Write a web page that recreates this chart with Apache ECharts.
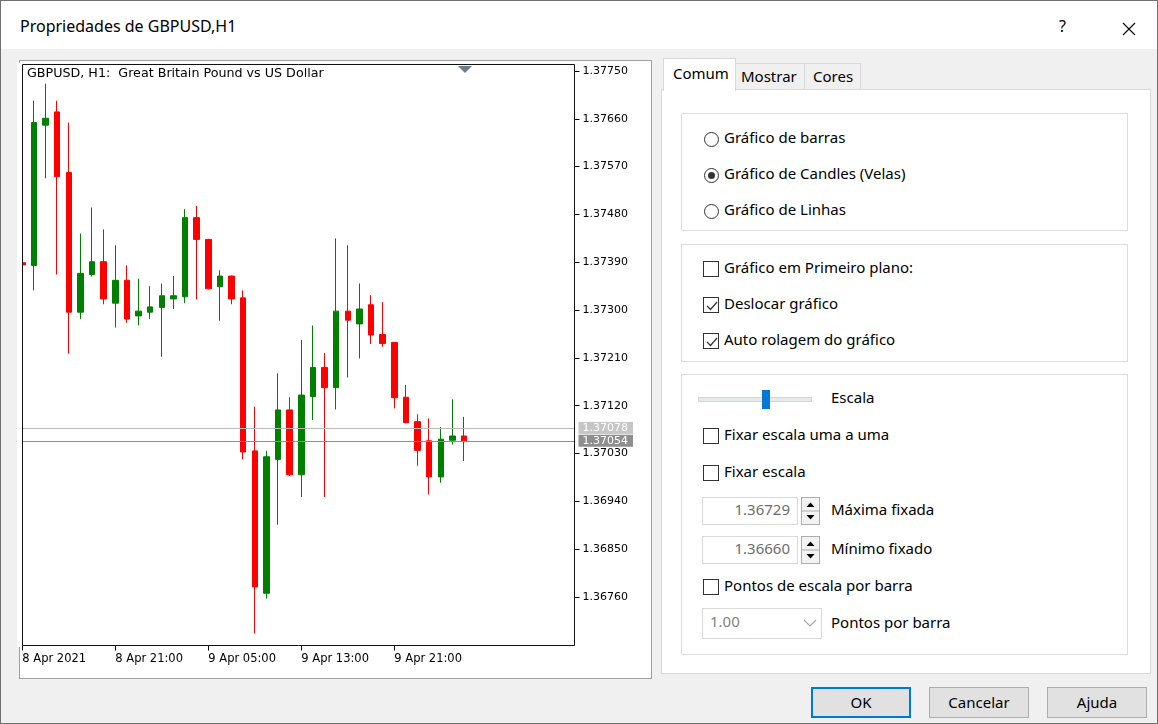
<!DOCTYPE html>
<html>
<head>
<meta charset="utf-8">
<script src="https://cdn.jsdelivr.net/npm/echarts@6/dist/echarts.min.js"></script>
<style>
  body { margin: 0; }
  #win { position: absolute; left: 0; top: 0; width: 1158px; height: 724px; box-sizing: border-box;
         border: 1px solid #707070; background: #f0f0f0; overflow: hidden;
         font-family: "Noto Sans", sans-serif; }
  #titlebar { position: absolute; left: 0; top: 0; width: 1156px; height: 48px; background: #fff; }
  .abs { position: absolute; box-sizing: border-box; }
  .t { position: absolute; font-size: 15px; line-height: 20px; height: 20px; margin-top: -2px; color: #000; white-space: nowrap; }
  .grp { position: absolute; box-sizing: border-box; border: 1px solid #dcdcdc; background: #fff; }
  .radio { position: absolute; width: 15px; height: 15px; box-sizing: border-box; border: 1px solid #333; border-radius: 50%; background: #fff; }
  .radio.on::after { content: ""; position: absolute; left: 3px; top: 3px; width: 7px; height: 7px; border-radius: 50%; background: #333; }
  .chk { position: absolute; width: 16px; height: 16px; box-sizing: border-box; border: 1px solid #333; background: #fff; }
  .chk svg { position: absolute; left: 0; top: 0; }
  .btn { position: absolute; box-sizing: border-box; height: 31px; width: 100px; background: #e1e1e1;
         border: 1px solid #adadad; font-size: 15px; line-height: 29px; text-align: center; }
  #chart { position: absolute; left: 0; top: 0; width: 660px; height: 690px; }
</style>
</head>
<body>
<div id="win">
  <div id="titlebar"></div>
  <div class="t" style="left:19px;top:17px;font-size:16px;">Propriedades de GBPUSD,H1</div>
  <div class="t" style="left:1058px;top:17px;font-size:16px;">?</div>
  <svg class="abs" style="left:1121px;top:21px;" width="14" height="14"><path d="M1 1 L13 13 M13 1 L1 13" stroke="#000" stroke-width="1.1"/></svg>

  <!-- fundo do painel do grafico -->
  <div class="abs" style="left:18px;top:59px;width:633px;height:619px;background:#fff;border:1px solid #a0a0a0;"></div>

  <!-- abas -->
  <div class="abs" style="left:660px;top:88px;width:490px;height:585px;background:#fff;border:1px solid #d9d9d9;"></div>
  <div class="abs" style="left:734px;top:62px;width:70px;height:27px;background:#f0f0f0;border:1px solid #d9d9d9;"></div>
  <div class="abs" style="left:803px;top:62px;width:57px;height:27px;background:#f0f0f0;border:1px solid #d9d9d9;"></div>
  <div class="abs" style="left:662px;top:57px;width:73px;height:33px;background:#fff;border:1px solid #d9d9d9;border-bottom:none;"></div>
  <div class="t" style="left:672px;top:64px;">Comum</div>
  <div class="t" style="left:740px;top:67px;">Mostrar</div>
  <div class="t" style="left:812px;top:67px;">Cores</div>

  <!-- grupo 1 -->
  <div class="grp" style="left:680px;top:112px;width:447px;height:118px;"></div>
  <div class="radio" style="left:703px;top:131px;"></div>
  <div class="t" style="left:723px;top:128px;">Gráfico de barras</div>
  <div class="radio on" style="left:703px;top:167px;"></div>
  <div class="t" style="left:723px;top:164px;">Gráfico de Candles (Velas)</div>
  <div class="radio" style="left:703px;top:203px;"></div>
  <div class="t" style="left:723px;top:200px;">Gráfico de Linhas</div>

  <!-- grupo 2 -->
  <div class="grp" style="left:680px;top:243px;width:447px;height:118px;"></div>
  <div class="chk" style="left:702px;top:260px;"></div>
  <div class="t" style="left:723px;top:258px;">Gráfico em Primeiro plano:</div>
  <div class="chk" style="left:702px;top:296px;"><svg width="16" height="16"><polyline points="3,8 6.5,11.5 13,4" fill="none" stroke="#333" stroke-width="1.2"/></svg></div>
  <div class="t" style="left:723px;top:294px;">Deslocar gráfico</div>
  <div class="chk" style="left:702px;top:332px;"><svg width="16" height="16"><polyline points="3,8 6.5,11.5 13,4" fill="none" stroke="#333" stroke-width="1.2"/></svg></div>
  <div class="t" style="left:723px;top:330px;">Auto rolagem do gráfico</div>

  <!-- grupo 3 -->
  <div class="grp" style="left:680px;top:373px;width:447px;height:281px;"></div>
  <div class="abs" style="left:697px;top:396px;width:114px;height:5px;background:#e7eaea;border:1px solid #d6d6d6;"></div>
  <div class="abs" style="left:761px;top:389px;width:8px;height:19px;background:#0078d7;"></div>
  <div class="t" style="left:830px;top:388px;">Escala</div>
  <div class="chk" style="left:702px;top:427px;"></div>
  <div class="t" style="left:723px;top:425px;">Fixar escala uma a uma</div>
  <div class="chk" style="left:702px;top:464px;"></div>
  <div class="t" style="left:723px;top:462px;">Fixar escala</div>

  <div class="abs" style="left:701px;top:496px;width:96px;height:28px;background:#fff;border:1px solid #d9d9d9;"></div>
  <div class="t" style="left:701px;top:500px;width:88px;text-align:right;color:#6d6d6d;">1.36729</div>
  <div class="abs" style="left:800px;top:496px;width:19px;height:28px;background:#f3f3f3;border:1px solid #adadad;"></div>
  <svg class="abs" style="left:800px;top:496px;" width="19" height="28"><line x1="1" y1="14" x2="18" y2="14" stroke="#adadad"/><path d="M5.5 10 L9.5 5.5 L13.5 10 Z" fill="#000"/><path d="M5.5 18 L9.5 22.5 L13.5 18 Z" fill="#000"/></svg>
  <div class="t" style="left:830px;top:500px;">Máxima fixada</div>

  <div class="abs" style="left:701px;top:535px;width:96px;height:28px;background:#fff;border:1px solid #d9d9d9;"></div>
  <div class="t" style="left:701px;top:539px;width:88px;text-align:right;color:#6d6d6d;">1.36660</div>
  <div class="abs" style="left:800px;top:535px;width:19px;height:28px;background:#f3f3f3;border:1px solid #adadad;"></div>
  <svg class="abs" style="left:800px;top:535px;" width="19" height="28"><line x1="1" y1="14" x2="18" y2="14" stroke="#adadad"/><path d="M5.5 10 L9.5 5.5 L13.5 10 Z" fill="#000"/><path d="M5.5 18 L9.5 22.5 L13.5 18 Z" fill="#000"/></svg>
  <div class="t" style="left:830px;top:539px;">Mínimo fixado</div>

  <div class="chk" style="left:702px;top:578px;"></div>
  <div class="t" style="left:723px;top:576px;">Pontos de escala por barra</div>
  <div class="abs" style="left:701px;top:607px;width:120px;height:31px;background:#fff;border:1px solid #d9d9d9;"></div>
  <div class="t" style="left:709px;top:612px;color:#838383;">1.00</div>
  <svg class="abs" style="left:802px;top:617px;" width="14" height="10"><polyline points="1,2 7,8 13,2" fill="none" stroke="#a6a6a6" stroke-width="1.1"/></svg>
  <div class="t" style="left:830px;top:613px;">Pontos por barra</div>

  <!-- botoes -->
  <div class="btn" style="left:810px;top:686px;border:2px solid #0078d7;line-height:27px;">OK</div>
  <div class="btn" style="left:928px;top:686px;">Cancelar</div>
  <div class="btn" style="left:1046px;top:686px;">Ajuda</div>

  <div id="chart"></div>
</div>

<script>
  // barras H1 visiveis (a primeira esta cortada pela borda esquerda)
  const times = [
    '8 Apr 13:00', '8 Apr 14:00', '8 Apr 15:00', '8 Apr 16:00', '8 Apr 17:00', '8 Apr 18:00',
    '8 Apr 19:00', '8 Apr 20:00', '8 Apr 21:00', '8 Apr 22:00', '8 Apr 23:00',
    '9 Apr 00:00', '9 Apr 01:00', '9 Apr 02:00', '9 Apr 03:00', '9 Apr 04:00', '9 Apr 05:00',
    '9 Apr 06:00', '9 Apr 07:00', '9 Apr 08:00', '9 Apr 09:00', '9 Apr 10:00', '9 Apr 11:00',
    '9 Apr 12:00', '9 Apr 13:00', '9 Apr 14:00', '9 Apr 15:00', '9 Apr 16:00', '9 Apr 17:00',
    '9 Apr 18:00', '9 Apr 19:00', '9 Apr 20:00', '9 Apr 21:00', '9 Apr 22:00', '9 Apr 23:00',
    '10 Apr 00:00', '10 Apr 01:00', '10 Apr 02:00', '10 Apr 03:00'
  ];
  const opens  = [1.37389, 1.37384, 1.37648, 1.37673, 1.37559, 1.37296, 1.37367, 1.37391, 1.37313, 1.37356,
                  1.37289, 1.37296, 1.37305, 1.37321, 1.37325, 1.37474, 1.37433, 1.37344, 1.37364, 1.37323,
                  1.37035, 1.36767, 1.37019, 1.37112, 1.36990, 1.37137, 1.37192, 1.37154, 1.37298, 1.37274,
                  1.37310, 1.37254, 1.37239, 1.37136, 1.37090, 1.37054, 1.36986, 1.37055, 1.37063];
  const closes = [1.37385, 1.37653, 1.37661, 1.37551, 1.37296, 1.37369, 1.37391, 1.37321, 1.37356, 1.37283,
                  1.37298, 1.37306, 1.37327, 1.37327, 1.37474, 1.37433, 1.37340, 1.37364, 1.37321, 1.37033,
                  1.36779, 1.37024, 1.37112, 1.36990, 1.37140, 1.37192, 1.37154, 1.37298, 1.37281, 1.37302,
                  1.37253, 1.37237, 1.37135, 1.37088, 1.37036, 1.36986, 1.37057, 1.37063, 1.37054];
  const lows   = [1.37381, 1.37337, 1.37548, 1.37367, 1.37218, 1.37283, 1.37363, 1.37311, 1.37267, 1.37276,
                  1.37271, 1.37283, 1.37212, 1.37302, 1.37313, 1.37320, 1.37339, 1.37280, 1.37311, 1.37019,
                  1.36691, 1.36757, 1.36896, 1.36988, 1.36948, 1.37093, 1.36948, 1.37113, 1.37173, 1.37209,
                  1.37236, 1.37231, 1.37115, 1.37087, 1.37007, 1.36953, 1.36975, 1.37047, 1.37016];
  const highs  = [1.37392, 1.37694, 1.37726, 1.37694, 1.37653, 1.37444, 1.37493, 1.37452, 1.37422, 1.37384,
                  1.37359, 1.37345, 1.37350, 1.37364, 1.37490, 1.37496, 1.37434, 1.37375, 1.37365, 1.37337,
                  1.37118, 1.37035, 1.37181, 1.37136, 1.37244, 1.37271, 1.37219, 1.37435, 1.37422, 1.37350,
                  1.37328, 1.37315, 1.37240, 1.37159, 1.37104, 1.37096, 1.37080, 1.37132, 1.37099];

  const askPrice = 1.37078;
  const bidPrice = 1.37054;

  // escala de precos
  const yTicks = [1.36760, 1.36850, 1.36940, 1.37030, 1.37120, 1.37210, 1.37300,
                  1.37390, 1.37480, 1.37570, 1.37660, 1.37750];
  const yMin = 1.366687;
  const yMax = 1.377622;

  // escala de tempo
  const xTickIndex = [0, 8, 16, 24, 32];
  const xTickText = ['8 Apr 2021', '8 Apr 21:00', '9 Apr 05:00', '9 Apr 13:00', '9 Apr 21:00'];
  const shiftBars = 9; // deslocamento do grafico

  const categories = times.concat(Array.from({ length: shiftBars }, (_, i) => 'shift' + i));
  const ohlc = times.map((t, i) => [opens[i], closes[i], lows[i], highs[i]]);

  const chartFont = '"DejaVu Sans", sans-serif';
  const myChart = echarts.init(document.getElementById('chart'));

  myChart.setOption({
    animation: false,
    title: {
      text: 'GBPUSD, H1:  Great Britain Pound vs US Dollar',
      left: 26, top: 66, padding: 0,
      textStyle: { fontSize: 12.7, fontWeight: 'normal', color: '#000', fontFamily: chartFont }
    },
    grid: { left: 15.5, top: 63.5, width: 558, height: 581 },
    xAxis: {
      type: 'category',
      data: categories,
      boundaryGap: true,
      axisLine: { show: false },
      axisTick: {
        show: true, alignWithLabel: true, length: 5,
        interval: (idx) => xTickIndex.includes(idx),
        lineStyle: { color: '#000' }
      },
      axisLabel: {
        interval: (idx) => xTickIndex.includes(idx),
        formatter: (val, idx) => xTickText[xTickIndex.indexOf(idx)] || '',
        align: 'left', margin: 8, color: '#000',
        fontSize: 11.5, fontFamily: chartFont
      },
      splitLine: { show: false }
    },
    yAxis: {
      type: 'value',
      position: 'right',
      min: yMin, max: yMax,
      scale: true,
      axisLine: { show: false },
      axisTick: { show: true, length: 5, customValues: yTicks, lineStyle: { color: '#000' } },
      axisLabel: {
        customValues: yTicks,
        formatter: (v) => v.toFixed(5),
        margin: 8, color: '#000', fontSize: 11, fontFamily: chartFont
      },
      splitLine: { show: false }
    },
    series: [{
      type: 'candlestick',
      data: ohlc,
      barWidth: 6,
      itemStyle: {
        color: '#008000', color0: '#ff0000',
        borderColor: '#008000', borderColor0: '#ff0000', borderWidth: 1
      },
      markLine: {
        silent: true,
        symbol: 'none',
        precision: 5,
        label: {
          position: 'end', distance: 4, color: '#fff', padding: [1, 5, 0, 4],
          fontSize: 11, fontFamily: chartFont,
          formatter: (p) => p.value.toFixed(5)
        },
        data: [
          { yAxis: askPrice, lineStyle: { color: '#b8b8b8', width: 1, type: 'solid' },
            label: { backgroundColor: '#c6c6c6' } },
          { yAxis: bidPrice, lineStyle: { color: '#8e8e8e', width: 1, type: 'solid' },
            label: { backgroundColor: '#8e8e8e' } }
        ]
      }
    }],
    graphic: [
      { type: 'rect', z: 100, shape: { x: 16, y: 62, width: 5, height: 584 }, style: { fill: '#fff' } },
      { type: 'rect', z: 101, shape: { x: 21.5, y: 63.5, width: 552, height: 581 },
        style: { fill: null, stroke: '#111', lineWidth: 1 } },
      { type: 'polygon', z: 101, shape: { points: [[457, 65], [471, 65], [464, 72]] },
        style: { fill: '#6b7c8c' } }
    ]
  });
</script>
</body>
</html>
